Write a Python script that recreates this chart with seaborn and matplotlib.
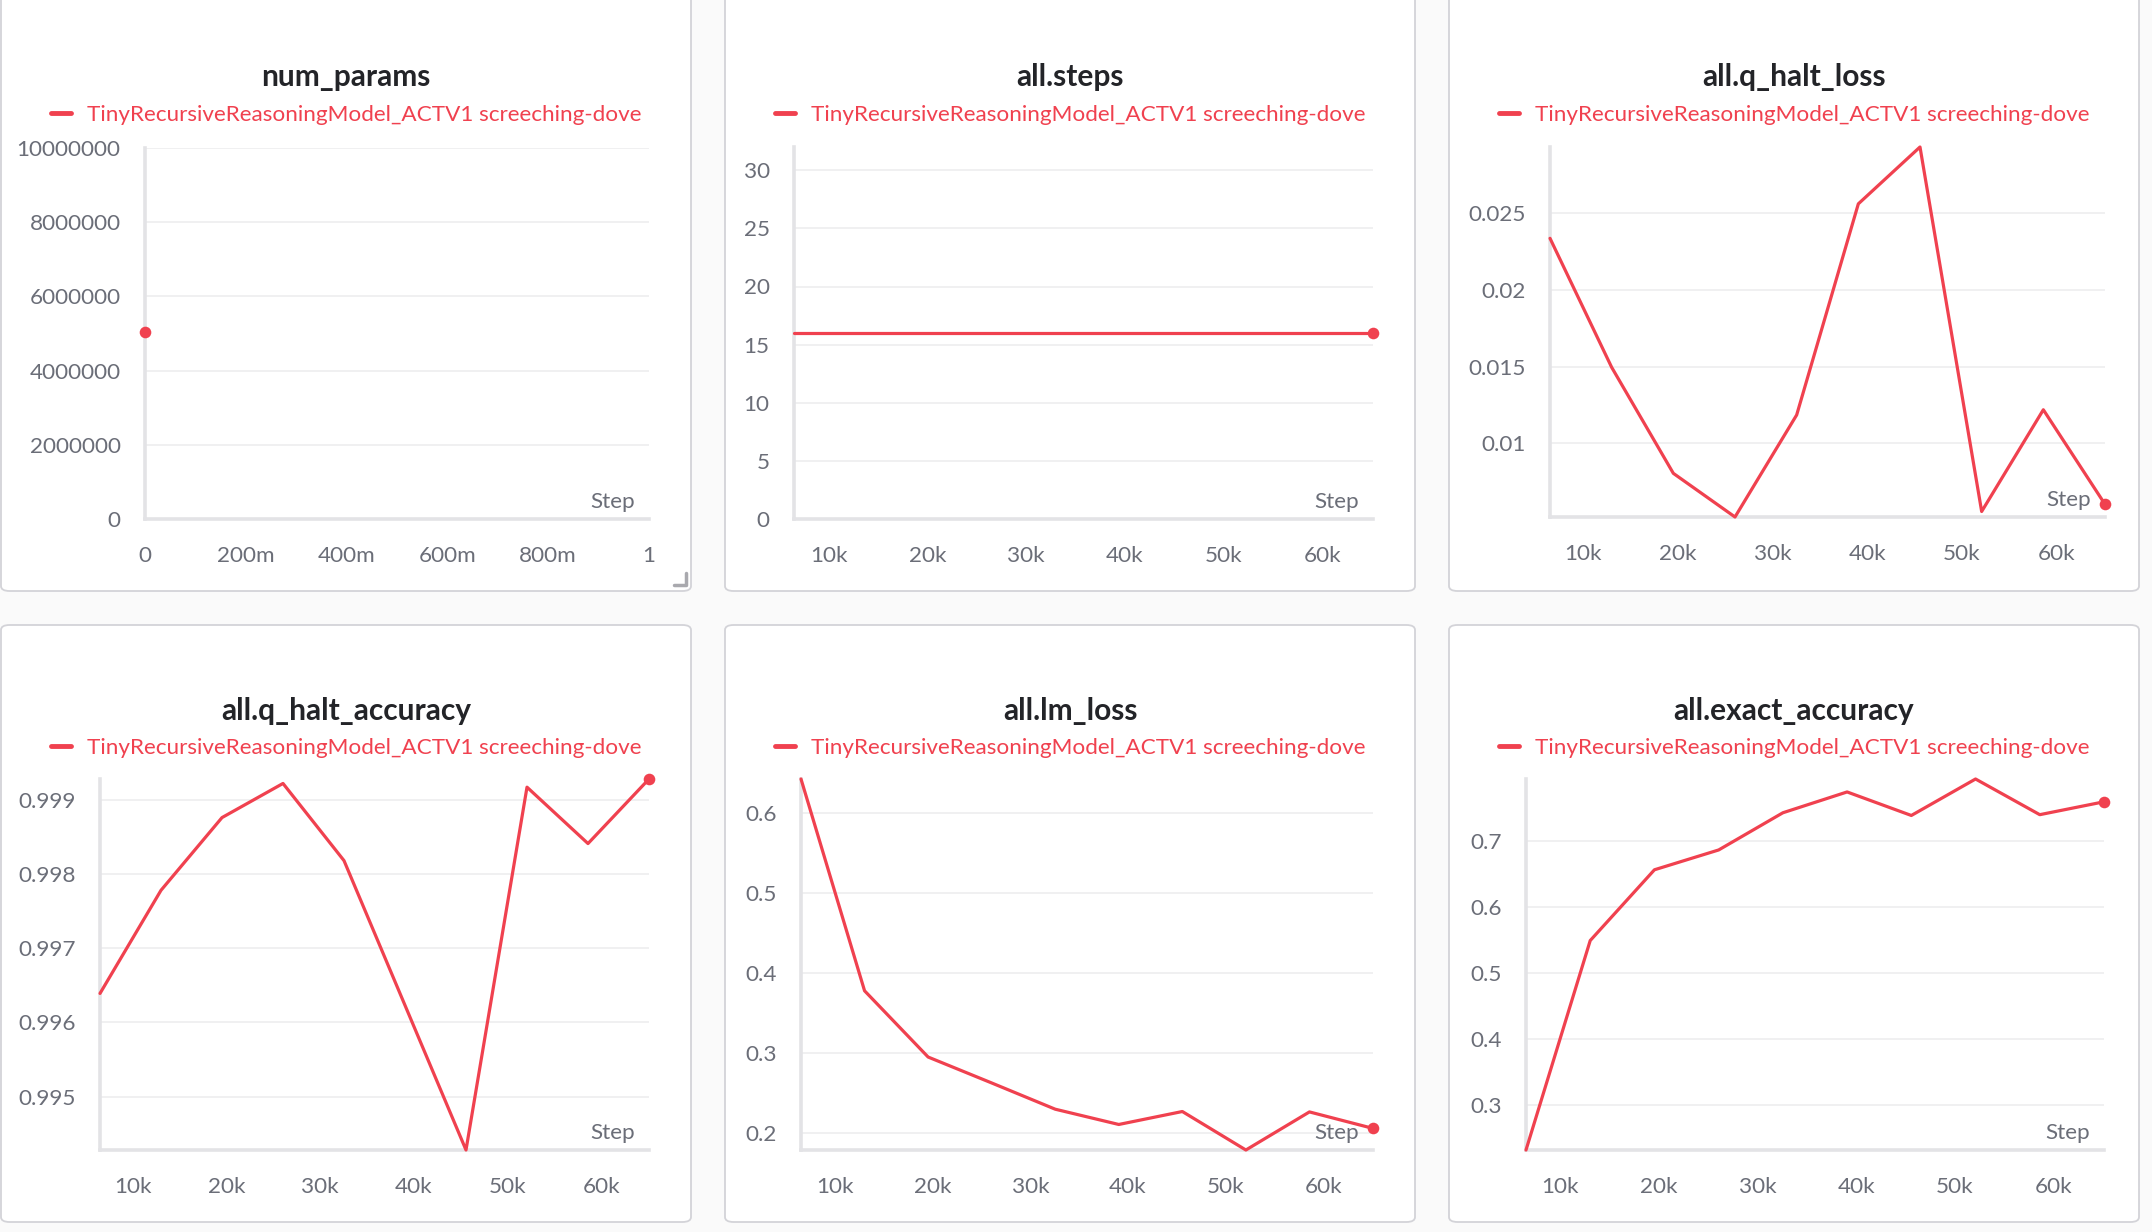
import pandas as pd
import seaborn as sns
import matplotlib.pyplot as plt
from matplotlib.patches import FancyBboxPatch
from matplotlib.lines import Line2D
from matplotlib.ticker import FuncFormatter

steps = [6510, 13020, 19530, 26040, 32550, 39060, 45570, 52080, 58590, 65100]
num_params_step = [0]
num_params = [5030000]
all_steps = [16, 16, 16, 16, 16, 16, 16, 16, 16, 16]
q_halt_loss = [0.02337, 0.01495, 0.00803, 0.00518, 0.01184, 0.02562, 0.02933, 0.00554, 0.01218, 0.00601]
q_halt_accuracy = [0.99639, 0.99778, 0.99876, 0.99922, 0.99818, 0.99623, 0.99428, 0.99917, 0.99841, 0.99928]
lm_loss = [0.6426, 0.3779, 0.2951, 0.2627, 0.2299, 0.2108, 0.2270, 0.1789, 0.2265, 0.2059]
exact_accuracy = [0.2323, 0.5493, 0.6564, 0.6864, 0.7427, 0.7742, 0.7386, 0.7938, 0.7398, 0.7593]

run_name = 'TinyRecursiveReasoningModel_ACTV1 screeching-dove'
step_ticks = [10000, 20000, 30000, 40000, 50000, 60000]
param_ticks = [0, 0.2, 0.4, 0.6, 0.8, 1]
param_tick_labels = ['0', '200m', '400m', '600m', '800m', '1']

RED = '#f0414f'
GRAY_TXT = '#6b6e78'
AXIS_C = '#e3e3e6'
GRID_C = '#ededef'
FS = 16.2

sns.set_theme(style='white')
plt.rcParams['font.family'] = ['Lato', 'DejaVu Sans']

W, H = 2152, 1232
fig = plt.figure(figsize=(W / 100, H / 100), dpi=100, facecolor='#fafafa')


def fx(px):
    return px / W


def fy(py):
    return 1 - py / H


# panel cards: (left, top, right, bottom) in pixels
cards = [(1, -20, 691, 591), (725, -20, 1415, 591), (1449, -20, 2139, 591),
         (1, 625, 691, 1222), (725, 625, 1415, 1222), (1449, 625, 2139, 1222)]
for (l, t, r, b) in cards:
    fig.patches.append(FancyBboxPatch((fx(l), fy(b)), (r - l) / W, (b - t) / H,
                                      boxstyle='round,pad=0,rounding_size=0.004',
                                      transform=fig.transFigure, facecolor='white',
                                      edgecolor='#d3d3d8', linewidth=1.3, zorder=-5))

# resize handle in the first card
fig.lines.append(Line2D([fx(674), fx(686), fx(686)], [fy(585), fy(585), fy(573)],
                        transform=fig.transFigure, color='#a9a9ae', linewidth=2.5, zorder=-4))

panels = [
    dict(title='num_params', box=(145, 148, 649, 519), x=num_params_step, y=num_params,
         xlim=(0, 1), ylim=(0, 10000000), yticks=[0, 2000000, 4000000, 6000000, 8000000, 10000000],
         yfmt=lambda v: f'{int(v)}'),
    dict(title='all.steps', box=(794, 147, 1373, 519), x=steps, y=all_steps,
         xlim=(steps[0], steps[-1]), ylim=(0, 32), yticks=[0, 5, 10, 15, 20, 25, 30],
         yfmt=lambda v: f'{int(v)}'),
    dict(title='all.q_halt_loss', box=(1550, 147, 2105, 517), x=steps, y=q_halt_loss,
         xlim=(steps[0], steps[-1]), ylim=(min(q_halt_loss), max(q_halt_loss)),
         yticks=[0.01, 0.015, 0.02, 0.025], yfmt=lambda v: f'{v:g}'),
    dict(title='all.q_halt_accuracy', box=(100, 779, 649, 1150), x=steps, y=q_halt_accuracy,
         xlim=(steps[0], steps[-1]), ylim=(min(q_halt_accuracy), max(q_halt_accuracy)),
         yticks=[0.995, 0.996, 0.997, 0.998, 0.999], yfmt=lambda v: f'{v:.3f}'),
    dict(title='all.lm_loss', box=(801, 779, 1373, 1150), x=steps, y=lm_loss,
         xlim=(steps[0], steps[-1]), ylim=(min(lm_loss), max(lm_loss)),
         yticks=[0.2, 0.3, 0.4, 0.5, 0.6], yfmt=lambda v: f'{v:.1f}'),
    dict(title='all.exact_accuracy', box=(1526, 779, 2104, 1150), x=steps, y=exact_accuracy,
         xlim=(steps[0], steps[-1]), ylim=(min(exact_accuracy), max(exact_accuracy)),
         yticks=[0.3, 0.4, 0.5, 0.6, 0.7], yfmt=lambda v: f'{v:.1f}'),
]

for i, p in enumerate(panels):
    l, t, r, b = p['box']
    ax = fig.add_axes([fx(l), fy(b), (r - l) / W, (b - t) / H], zorder=2)
    ax.set_facecolor('none')
    df = pd.DataFrame({'Step': p['x'], 'value': p['y']})
    if len(df) > 1:
        sns.lineplot(data=df, x='Step', y='value', ax=ax, color=RED, linewidth=2.3,
                     clip_on=False, zorder=4)
    ax.scatter(df['Step'].iloc[-1], df['value'].iloc[-1], s=70, color=RED,
               zorder=5, clip_on=False, linewidths=0)
    ax.set_xlim(*p['xlim'])
    ax.set_ylim(*p['ylim'])
    ax.set_yticks(p['yticks'])
    ax.yaxis.set_major_formatter(FuncFormatter(lambda v, pos, f=p['yfmt']: f(v)))
    if i == 0:
        ax.set_xticks(param_ticks)
        ax.set_xticklabels(param_tick_labels)
    else:
        ax.set_xticks(step_ticks)
        ax.xaxis.set_major_formatter(FuncFormatter(lambda v, pos: f'{int(v / 1000)}k'))
    ax.set_xlabel('')
    ax.set_ylabel('')
    ax.grid(axis='y', color=GRID_C, linewidth=1.2)
    ax.grid(axis='x', visible=False)
    for s in ['top', 'right']:
        ax.spines[s].set_visible(False)
    for s in ['left', 'bottom']:
        ax.spines[s].set_color(AXIS_C)
        ax.spines[s].set_linewidth(2.6)
    ax.tick_params(axis='both', direction='inout', length=17, width=1.3, color=AXIS_C,
                   labelcolor=GRAY_TXT, labelsize=FS, pad=9)
    ax.tick_params(axis='x', pad=11)
    ax.annotate('Step', xy=(1, 0), xycoords='axes fraction', xytext=(-10, 5),
                textcoords='offset points', ha='right', va='bottom',
                color=GRAY_TXT, fontsize=FS)

    cl, ct, cr, cb = cards[i]
    cx = (cl + cr) / 2
    ty = 77 if i < 3 else 711
    ly = 115 if i < 3 else 748
    fig.text(fx(cx), fy(ty), p['title'], ha='center', va='center', fontsize=21.5,
             fontweight='bold', color='#232428')
    handle = Line2D([], [], color=RED, linewidth=3.5)
    fig.legend([handle], [run_name], loc='center', bbox_to_anchor=(fx(cx), fy(ly)),
               bbox_transform=fig.transFigure, frameon=False, fontsize=FS,
               handlelength=0.9, handletextpad=0.7, labelcolor=RED,
               borderpad=0, borderaxespad=0)

fig.savefig('out.png', dpi=100, facecolor=fig.get_facecolor())
